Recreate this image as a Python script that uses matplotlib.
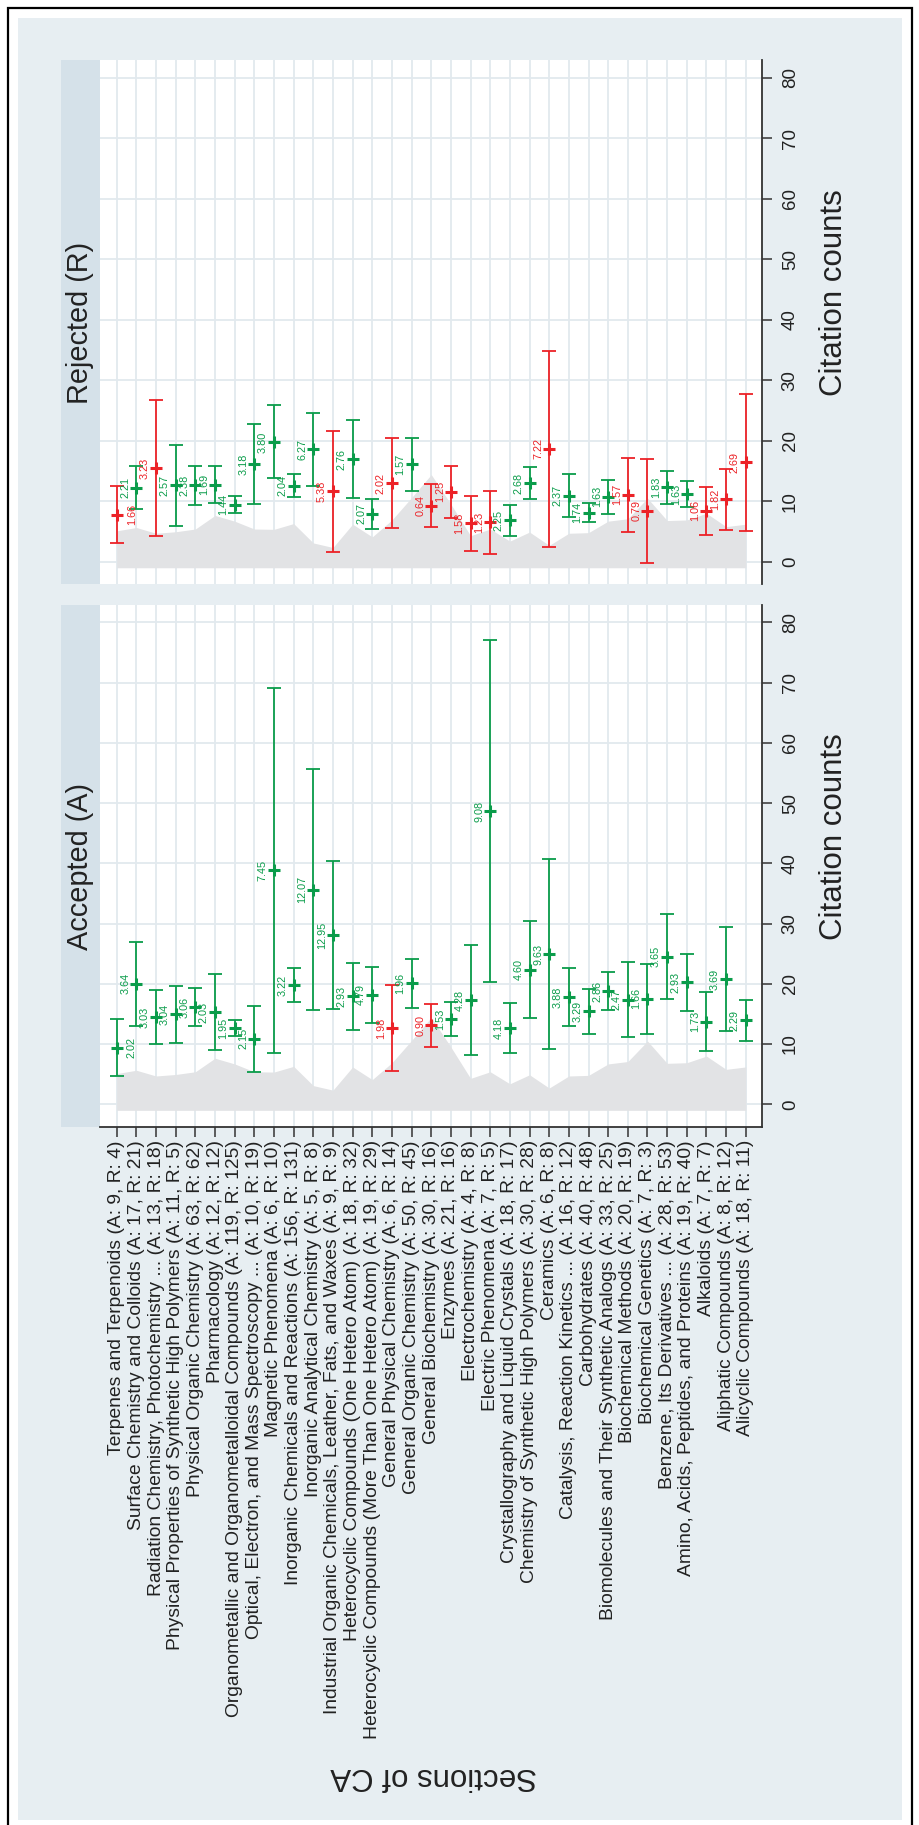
import numpy as np
import matplotlib
matplotlib.use("Agg")
import matplotlib.pyplot as plt
from matplotlib.patches import Rectangle

plt.rcParams['font.family'] = ['Liberation Sans', 'DejaVu Sans']

# CA sections with paper counts (accepted / rejected)
sections = [
    "Terpenes and Terpenoids", "Surface Chemistry and Colloids",
    "Radiation Chemistry, Photochemistry ...",
    "Physical Properties of Synthetic High Polymers", "Physical Organic Chemistry",
    "Pharmacology", "Organometallic and Organometalloidal Compounds",
    "Optical, Electron, and Mass Spectroscopy ...", "Magnetic Phenomena",
    "Inorganic Chemicals and Reactions", "Inorganic Analytical Chemistry",
    "Industrial Organic Chemicals, Leather, Fats, and Waxes",
    "Heterocyclic Compounds (One Hetero Atom)",
    "Heterocyclic Compounds (More Than One Hetero Atom)",
    "General Physical Chemistry", "General Organic Chemistry", "General Biochemistry",
    "Enzymes", "Electrochemistry", "Electric Phenomena",
    "Crystallography and Liquid Crystals", "Chemistry of Synthetic High Polymers",
    "Ceramics", "Catalysis, Reaction Kinetics ...", "Carbohydrates",
    "Biomolecules and Their Synthetic Analogs", "Biochemical Methods",
    "Biochemical Genetics", "Benzene, Its Derivatives ...",
    "Amino, Acids, Peptides, and Proteins", "Alkaloids", "Aliphatic Compounds",
    "Alicyclic Compounds",
]
n_acc = [9, 17, 13, 11, 63, 12, 119, 10, 6, 156, 5, 9, 18, 19, 6, 50, 30,
         21, 4, 7, 18, 30, 6, 16, 40, 33, 20, 7, 28, 19, 7, 8, 18]
n_rej = [4, 21, 18, 5, 62, 12, 125, 19, 10, 131, 8, 9, 32, 29, 14, 45, 16,
         16, 8, 5, 17, 28, 8, 12, 48, 25, 19, 3, 53, 40, 7, 12, 11]

# accepted: mean citations, 95% CI and standard error
acc_mean = [9.42, 20.0, 14.44, 14.92, 16.09, 15.3, 12.67, 10.87, 38.83, 19.75, 35.63,
            28.08, 17.95, 18.15, 12.67, 20.09, 13.1, 14.16, 17.29, 48.68, 12.67,
            22.37, 24.94, 17.75, 15.41, 18.8, 17.38, 17.49, 24.51, 20.23, 13.73,
            20.8, 13.96]
acc_lo = [4.68, 13.07, 9.93, 10.21, 12.95, 8.96, 11.36, 5.36, 8.5, 16.95, 15.63,
          15.81, 12.38, 13.52, 5.53, 15.98, 9.53, 11.36, 8.1, 20.37, 8.5,
          14.38, 9.24, 12.95, 11.7, 15.63, 11.13, 11.64, 17.52, 15.52, 8.79,
          12.21, 10.56]
acc_hi = [14.15, 26.93, 18.94, 19.63, 19.23, 21.63, 13.98, 16.38, 69.16, 22.54, 55.63,
          40.34, 23.51, 22.77, 19.8, 24.19, 16.66, 16.95, 26.48, 76.98, 16.83,
          30.36, 40.63, 22.54, 19.12, 21.97, 23.62, 23.34, 31.5, 24.94, 18.66,
          29.39, 17.35]
acc_se = [2.02, 3.64, 3.03, 3.04, 3.06, 2.03, 1.95, 2.15, 7.45, 3.22, 12.07,
          12.95, 2.93, 4.79, 1.98, 1.96, 0.90, 1.53, 4.28, 9.08, 4.18,
          4.60, 9.63, 3.88, 3.29, 2.86, 2.47, 1.66, 3.65, 2.93, 1.73,
          3.69, 2.29]
acc_red = [15, 17]

# rejected
rej_mean = [7.79, 12.23, 15.45, 12.65, 12.6, 12.75, 9.45, 16.16, 19.8, 12.53, 18.55,
            11.64, 16.96, 7.9, 12.97, 16.13, 9.28, 11.55, 6.35, 6.53, 6.85,
            13.0, 18.67, 10.88, 8.1, 10.73, 11.05, 8.39, 12.32, 11.2, 8.42,
            10.34, 16.43]
rej_lo = [3.09, 8.69, 4.25, 5.98, 9.45, 9.75, 8.1, 9.57, 13.8, 10.64, 12.55,
          1.6, 10.46, 5.44, 5.55, 11.76, 5.73, 7.21, 1.77, 1.3, 4.25,
          10.34, 2.48, 7.33, 6.5, 7.92, 4.96, -0.18, 9.57, 9.1, 4.43,
          5.32, 5.14]
rej_hi = [12.45, 15.78, 26.65, 19.32, 15.75, 15.75, 10.8, 22.75, 25.82, 14.42, 24.52,
          21.68, 23.46, 10.34, 20.38, 20.5, 12.82, 15.89, 10.93, 11.76, 9.45,
          15.66, 34.86, 14.42, 9.69, 13.53, 17.13, 16.96, 15.07, 13.29, 12.41,
          15.36, 27.71]
rej_se = [1.66, 2.21, 3.23, 2.57, 2.38, 1.69, 1.44, 3.18, 3.80, 2.04, 6.27,
          5.38, 2.76, 2.07, 2.02, 1.57, 0.64, 1.25, 1.58, 1.23, 2.25,
          2.68, 7.22, 2.37, 1.74, 1.63, 1.57, 0.79, 1.83, 1.63, 1.06,
          1.82, 2.69]
rej_red = [1, 3, 12, 15, 17, 18, 19, 20, 23, 27, 28, 31, 32, 33]

# grey reference band (same in both panels)
band_lo = -1.0
band_hi = [5.1, 5.65, 4.7, 4.95, 5.4, 7.65, 6.7, 5.4, 5.35, 6.3, 3.1,
           2.35, 6.2, 4.1, 6.9, 10.6, 14.4, 9.5, 4.3, 5.4, 3.4,
           4.9, 2.7, 4.7, 4.8, 6.7, 7.1, 10.5, 6.8, 6.9, 8.0,
           5.8, 6.2]

GREEN = "#0A9C4A"
RED = "#EC2227"
BG = "#E7EEF2"
STRIP = "#D5E1E9"
GRID = "#E2E9EE"
AXC = "#333333"

W, H = 920, 1825
fig = plt.figure(figsize=(W / 100, H / 100), dpi=100, facecolor="white")


def frect(x0, y0, x1, y1):
    return [x0 / W, 1 - y1 / H, (x1 - x0) / W, (y1 - y0) / H]


fig.patches.append(Rectangle((18 / W, 1 - 1820 / H), 884 / W, 1802 / H,
                             transform=fig.transFigure, fc=BG, ec="none", zorder=-2))
fig.patches.append(Rectangle((8 / W, -0.01), 904 / W, 1 - 8 / H + 0.01,
                             transform=fig.transFigure, fill=False, ec="black",
                             lw=1.6, zorder=-1))

labels = [f"{s} (A: {a}, R: {r})" for s, a, r in zip(sections, n_acc, n_rej)]
x = np.arange(1, len(sections) + 1)


def panel(box, title, mean, lo, hi, se, red, show_labels):
    ax = fig.add_axes(frect(*box))
    ax.set_facecolor("white")
    ax.set_xlim(0.15, 33.81)
    ax.set_ylim(-3.75, 82.83)
    ax.set_axisbelow(True)
    ax.grid(True, color=GRID, lw=1.3)

    ax.fill_between(x, band_lo, band_hi, color="#E2E3E5", lw=0, zorder=1)

    for i in range(len(x)):
        c = RED if (i + 1) in red else GREEN
        ax.errorbar(x[i], mean[i], yerr=[[mean[i] - lo[i]], [hi[i] - mean[i]]],
                    fmt="none", ecolor=c, elinewidth=1.3, capsize=4.8,
                    capthick=1.3, zorder=3)
        ax.plot(x[i], mean[i], marker="+", ms=8, mew=2.2, color=c, zorder=4)
        dx = 11 if i == 0 else -8
        ax.annotate(f"{se[i]:.2f}", (x[i], mean[i]), xytext=(dx, 0),
                    textcoords="offset points", rotation=90, ha="center",
                    va="center", fontsize=7.8, color=c, zorder=5)

    for s in ["top", "left"]:
        ax.spines[s].set_visible(False)
    ax.spines["right"].set_color(AXC)
    ax.spines["right"].set_linewidth(1.3)
    ax.yaxis.tick_right()
    ax.yaxis.set_label_position("right")
    ax.set_yticks(range(0, 81, 10))
    ax.tick_params(axis="y", length=7.5, width=1.1, color=AXC, pad=7,
                   labelsize=13.5, labelcolor="#222222")
    plt.setp(ax.get_yticklabels(), rotation=90, va="center")
    ax.set_ylabel("Citation counts", fontsize=22.5, color="#222222",
                  rotation=90, ha="center", va="center")
    ax.yaxis.set_label_coords(1.109, 0.557)

    ax.set_xticks(x)
    if show_labels:
        ax.spines["bottom"].set_color(AXC)
        ax.spines["bottom"].set_linewidth(1.3)
        ax.set_xticklabels(labels, rotation=90, ha="center", va="top",
                           fontsize=13.9, color="#222222")
        ax.tick_params(axis="x", length=7.5, width=1.1, color=AXC, pad=2)
    else:
        ax.spines["bottom"].set_visible(False)
        ax.set_xticklabels([])
        ax.tick_params(axis="x", length=0)

    # facet title strip on the left edge of the panel
    sw = 39 / (box[2] - box[0])
    ax.add_patch(Rectangle((-sw, 0), sw, 1, transform=ax.transAxes,
                           fc=STRIP, ec="none", clip_on=False, zorder=0))
    ax.text(-sw / 2, 0.5, title, transform=ax.transAxes, rotation=90,
            ha="center", va="center", fontsize=20.8, color="#222222")
    return ax


panel((100, 60.5, 761.7, 584.4), "Rejected (R)", rej_mean, rej_lo, rej_hi,
      rej_se, rej_red, False)
panel((100, 605.2, 761.7, 1126.9), "Accepted (A)", acc_mean, acc_lo, acc_hi,
      acc_se, acc_red, True)

fig.text(434 / W, 1 - 1776 / H, "Sections of CA", rotation=180, ha="center",
         va="center", fontsize=22.5, color="#222222")

fig.savefig("out.png", dpi=100, facecolor="white")
